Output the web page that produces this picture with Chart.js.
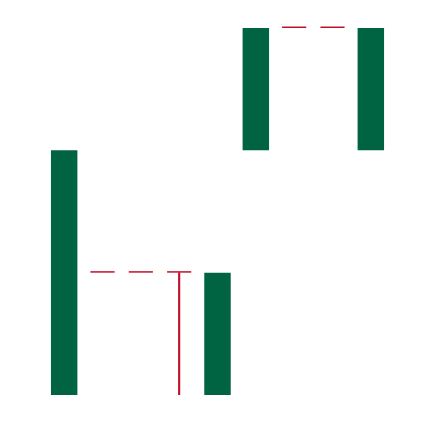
<!DOCTYPE html>
<html>
<head>
<meta charset="utf-8">
<script src="https://cdn.jsdelivr.net/npm/chart.js@4/dist/chart.umd.min.js"></script>
<style>
html,body{margin:0;padding:0;background:#fff;}
#wrap{width:434px;height:422px;}
</style>
</head>
<body>
<div id="wrap"><canvas id="c"></canvas></div>
<script>
const categories = ['1','2','3','4','5','6','7','8','9'];
const barLows  = [0, null, null, null, 0, 2, null, null, 2];
const barHighs = [2, null, null, null, 1, 3, null, null, 3];
const connectorLevels = [null, 1, 1, 1, null, null, 3, 3, null];
const stemLows  = [null, null, null, 0, null, null, null, null, null];
const stemHighs = [null, null, null, 1, null, null, null, null, null];

const GREEN = '#006341';
const RED = '#c0102a';

const pair = (a, b) => a.map((v, i) => (v == null || b[i] == null) ? null : [v, b[i]]);

new Chart(document.getElementById('c'), {
  type: 'bar',
  data: {
    labels: categories,
    datasets: [
      {
        data: pair(barLows, barHighs),
        backgroundColor: GREEN,
        grouped: false,
        categoryPercentage: 1,
        barPercentage: 0.69,
        borderWidth: 0
      },
      {
        data: connectorLevels.map(v => v == null ? null : [v, v]),
        backgroundColor: RED,
        grouped: false,
        categoryPercentage: 1,
        barPercentage: 0.63,
        minBarLength: 1.5,
        borderWidth: 0,
        clip: false
      },
      {
        data: pair(stemLows, stemHighs),
        backgroundColor: RED,
        grouped: false,
        barThickness: 1.5,
        borderWidth: 0
      }
    ]
  },
  options: {
    responsive: true,
    maintainAspectRatio: false,
    animation: false,
    layout: { padding: { left: 45, right: 44, top: 28, bottom: 27 } },
    plugins: { legend: { display: false }, tooltip: { enabled: false } },
    scales: {
      x: { display: false },
      y: { display: false, min: 0, max: 3 }
    }
  }
});
</script>
</body>
</html>
